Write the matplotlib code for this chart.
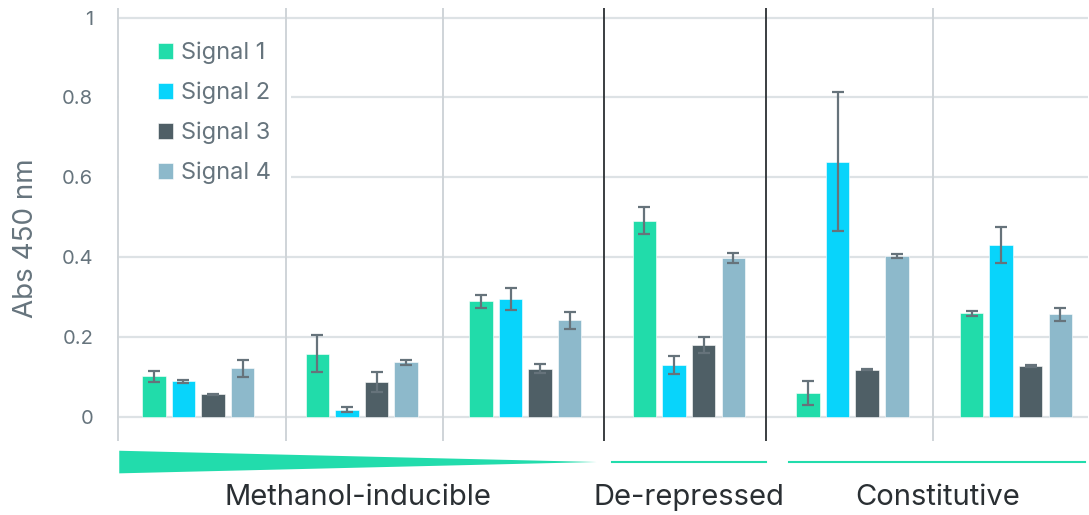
import matplotlib.pyplot as plt
from matplotlib.patches import Polygon, Rectangle
import numpy as np

plt.rcParams['font.family'] = ['Inter', 'DejaVu Sans']

# ----------- DATA -------------
signals = ['Signal 1', 'Signal 2', 'Signal 3', 'Signal 4']
groups = ['Methanol-inducible', 'Methanol-inducible', 'Methanol-inducible',
          'De-repressed', 'Constitutive', 'Constitutive']

signal1 = [0.102, 0.159, 0.290, 0.491, 0.060, 0.260]
signal2 = [0.089, 0.018, 0.295, 0.130, 0.639, 0.431]
signal3 = [0.057, 0.087, 0.121, 0.181, 0.118, 0.128]
signal4 = [0.122, 0.137, 0.242, 0.398, 0.402, 0.257]

err1 = [0.014, 0.046, 0.016, 0.034, 0.030, 0.006]
err2 = [0.003, 0.006, 0.027, 0.023, 0.174, 0.045]
err3 = [0.001, 0.025, 0.012, 0.020, 0.001, 0.002]
err4 = [0.021, 0.006, 0.021, 0.012, 0.005, 0.017]

yticks = [0, 0.2, 0.4, 0.6, 0.8, 1]
ytick_labels = ['0', '0.2', '0.4', '0.6', '0.8', '1']
# ------------------------------

colors = ['#21dcaa', '#08d4fb', '#4f5f66', '#8db9cb']
grid_c = '#dde2e5'
text_c = '#66747d'

# panel separators (light = within a category, dark = between categories)
seps_light = [-0.49, 0.536, 1.495, 4.494]
seps_dark = [2.484, 3.474]

fig = plt.figure(figsize=(10.89, 5.15), dpi=100)
ax = fig.add_axes([0.1074, 0.1437, 0.8916, 0.8408])

x = np.arange(len(groups))
width = 0.1435
step = 0.181
values = [signal1, signal2, signal3, signal4]
errors = [err1, err2, err3, err4]

for i, (vals, errs) in enumerate(zip(values, errors)):
    ax.bar(x + (i - 1.5) * step, vals, width, color=colors[i], label=signals[i],
           zorder=3, edgecolor='white', linewidth=0.4)
    ax.errorbar(x + (i - 1.5) * step, vals, yerr=errs, fmt='none',
                ecolor='#66737b', elinewidth=1.6, capsize=4.6, capthick=1.6,
                zorder=4)

ax.set_xlim(-0.497, 5.44)
ax.set_ylim(-0.06, 1.024)

for yv in yticks:
    ax.axhline(yv, color=grid_c, lw=1.6, zorder=1)
for xv in seps_light:
    ax.axvline(xv, color='#cfd4d8', lw=1.4, zorder=6)
for xv in seps_dark:
    ax.axvline(xv, color='#2b2f33', lw=1.3, zorder=6)

for s in ax.spines.values():
    s.set_visible(False)
ax.set_xticks([])
ax.set_yticks(yticks)
ax.set_yticklabels(ytick_labels)
ax.tick_params(axis='y', length=0, pad=17, labelsize=14.5, labelcolor=text_c)

fig.text(0.0235, 1 - 238.5 / 515, 'Abs 450 nm', rotation=90, ha='center',
         va='center', fontsize=20, color=text_c)

# white box behind the legend hides the gridlines there
ax.add_patch(Rectangle((0.002, 0.5566), 0.177, 0.411, transform=ax.transAxes,
                       facecolor='white', edgecolor='none', zorder=2))
ax.legend(loc='upper left', bbox_to_anchor=(0.0422, 0.9215), frameon=False,
          fontsize=17, handlelength=0.64, handleheight=0.64,
          handletextpad=0.34, labelspacing=0.74, borderpad=0.0,
          borderaxespad=0.0, labelcolor=text_c)

# category markers below the axis
teal = '#22dcac'
wedge = Polygon([[-0.483, -0.0844], [-0.483, -0.141], [2.436, -0.1126]],
                closed=True, facecolor=teal, edgecolor='none', clip_on=False)
ax.add_patch(wedge)
ax.plot([2.527, 3.474], [-0.1126, -0.1126], color=teal, lw=1.5, clip_on=False)
ax.plot([3.614, 5.423], [-0.1126, -0.1126], color=teal, lw=1.5, clip_on=False)

label_y = -0.2005
ax.text((-0.483 + 2.436) / 2, label_y, 'Methanol-inducible', ha='center',
        va='center', fontsize=21, color='#2a2f33', clip_on=False)
ax.text((2.527 + 3.474) / 2, label_y, 'De-repressed', ha='center',
        va='center', fontsize=21, color='#2a2f33', clip_on=False)
ax.text((3.614 + 5.423) / 2, label_y, 'Constitutive', ha='center',
        va='center', fontsize=21, color='#2a2f33', clip_on=False)

fig.savefig('out.png', dpi=100)
